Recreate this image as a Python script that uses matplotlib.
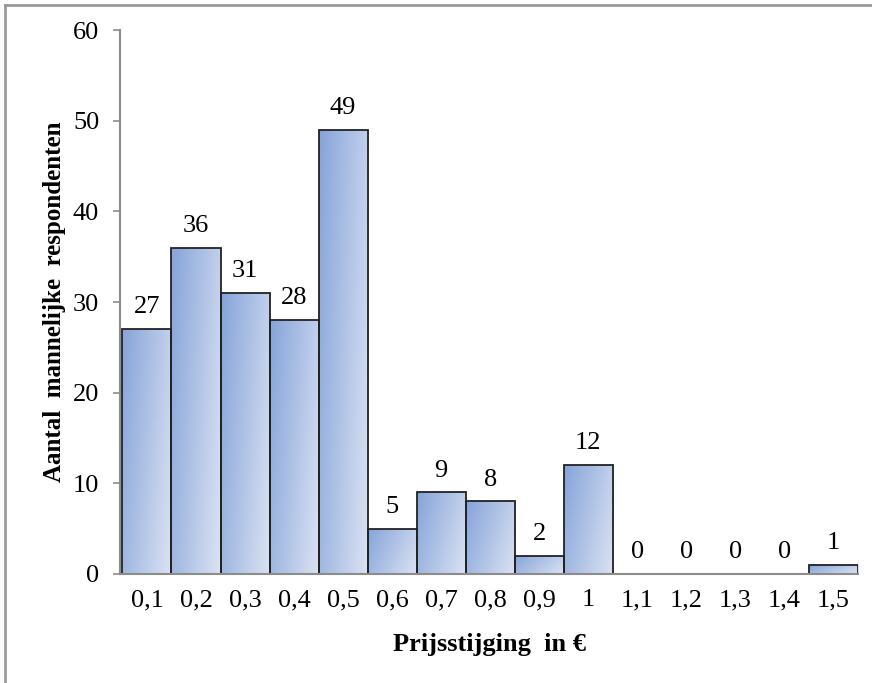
import numpy as np
import matplotlib
matplotlib.use("Agg")
import matplotlib.pyplot as plt
from matplotlib.colors import LinearSegmentedColormap
from matplotlib.lines import Line2D

plt.rcParams['font.family'] = ['Liberation Serif', 'DejaVu Serif']

categories = ['0,1', '0,2', '0,3', '0,4', '0,5', '0,6', '0,7', '0,8',
              '0,9', '1', '1,1', '1,2', '1,3', '1,4', '1,5']
counts = [27, 36, 31, 28, 49, 5, 9, 8, 2, 12, 0, 0, 0, 0, 1]
yticks = [0, 10, 20, 30, 40, 50, 60]

fig = plt.figure(figsize=(8.72, 6.83), dpi=100)
ax = fig.add_axes([0.1376, 0.1596, 0.8464, 0.7964])

x = np.arange(len(categories))
bars = ax.bar(x, counts, width=1.0, color='none', edgecolor='#222222',
              linewidth=1.3, zorder=3)

# diagonal blue gradient, darker top-left to lighter bottom-right
cmap = LinearSegmentedColormap.from_list('g', ['#86a4da', '#dbe3f2'])
gx, gy = np.meshgrid(np.linspace(0, 1, 60), np.linspace(0, 1, 60))
grad = 0.7 * gx + 0.3 * gy
for b in bars:
    if b.get_height() <= 0:
        continue
    x0, w, h = b.get_x(), b.get_width(), b.get_height()
    im = ax.imshow(grad, cmap=cmap, extent=[x0, x0 + w, 0, h],
                   aspect='auto', zorder=2, interpolation='bilinear')
    im.set_clip_path(b)

for xi, c in zip(x, counts):
    ax.text(xi, c + 1.2, str(c), ha='center', va='bottom', fontsize=19)

ax.set_xlim(-0.55, 14.5)
ax.set_ylim(0, 60)
ax.set_yticks(yticks)
ax.set_xticks(x)
ax.set_xticklabels(categories)
ax.tick_params(axis='x', length=0, pad=11, labelsize=19)
ax.tick_params(axis='y', length=5, width=1.2, color='#8c8c8c', pad=10,
               labelsize=19)

for s in ['top', 'right']:
    ax.spines[s].set_visible(False)
for s in ['left', 'bottom']:
    ax.spines[s].set_color('#8c8c8c')
    ax.spines[s].set_linewidth(1.5)
ax.spines['bottom'].set_zorder(4)

ax.set_xlabel('Prijsstijging  in €', fontsize=19, fontweight='bold',
              labelpad=16)
ax.set_ylabel('Aantal  mannelijke  respondenten', fontsize=18,
              fontweight='bold', labelpad=5)

# outer frame (left and top only visible)
fig.add_artist(Line2D([0.0063, 0.0063], [0, 0.9927], transform=fig.transFigure,
                      color='#9a9a9a', lw=2))
fig.add_artist(Line2D([0.0063, 1.0], [0.9927, 0.9927], transform=fig.transFigure,
                      color='#9a9a9a', lw=2))

fig.savefig('out.png', dpi=100)
